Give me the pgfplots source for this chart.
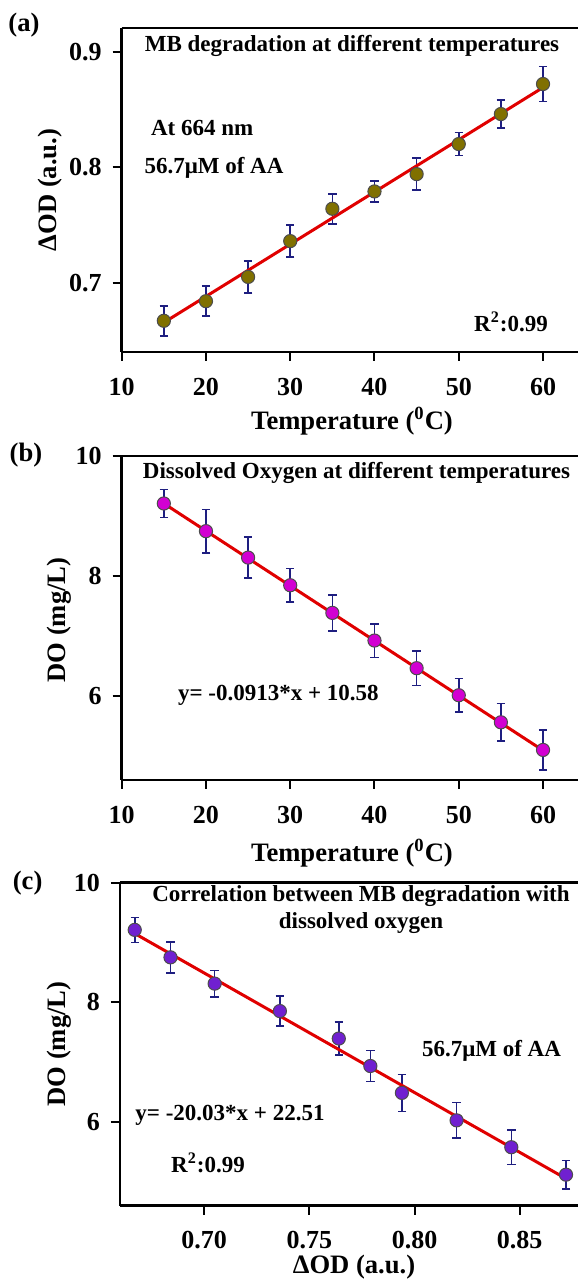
\documentclass[border=0pt]{standalone}
\usepackage{fontspec}
\setmainfont{Liberation Serif}
\usepackage{pgfplots}
\pgfplotsset{compat=1.18}

\definecolor{olivepts}{RGB}{128,112,0}
\definecolor{magpts}{RGB}{210,0,210}
\definecolor{purppts}{RGB}{112,32,208}
\definecolor{errnavy}{RGB}{30,30,128}
\definecolor{fitred}{RGB}{224,0,0}

\newcommand\annf{\fontsize{11.5}{13.5}\selectfont\bfseries}
\newcommand\labf{\fontsize{13.3}{15}\selectfont\bfseries}

\pgfplotsset{
  panel/.style={
    scale only axis,
    axis y line*=left,
    axis line style={line width=1.3pt},
    tick align=outside, tick pos=left,
    major tick length=4.5pt,
    tick style={line width=1pt, black},
    minor tick num=0,
    tick label style={font=\fontsize{13}{15}\selectfont\bfseries},
    /pgf/number format/assume math mode=true,
    xticklabel style={yshift=-5pt},
    yticklabel style={xshift=-2pt},
    clip=false,
    error bars/y dir=both,
    error bars/y explicit,
    error bars/error bar style={errnavy, line width=0.8pt},
    error bars/error mark options={errnavy, line width=0.8pt, mark size=2.1pt, rotate=90},
  },
  dots/.style={only marks, mark=*, mark size=3.3pt,
    mark options={fill=#1, draw=black!70, line width=0.5pt}},
  fit/.style={fitred, line width=1.5pt, no marks},
}

\begin{document}
\begin{tikzpicture}[x=1pt, y=1pt]
\useasboundingbox (0,0) rectangle (289,641);

% (a) MB degradation vs temperature
\begin{axis}[panel, at={(60.85pt,465pt)}, anchor=south west,
  width=228.15pt, height=162pt,
  xmin=10, xmax=64.15, ymin=0.640, ymax=0.9205,
  xtick={10,20,...,60}, ytick={0.7,0.8,0.9}]
\addplot[dots=olivepts] coordinates {
  (15,0.667) +- (0,0.013) (20,0.684) +- (0,0.013)
  (25,0.705) +- (0,0.014) (30,0.736) +- (0,0.014)
  (35,0.764) +- (0,0.013) (40,0.779) +- (0,0.009)
  (45,0.794) +- (0,0.014) (50,0.820) +- (0,0.010)
  (55,0.846) +- (0,0.012) (60,0.872) +- (0,0.015) };
\addplot[fit] coordinates {(15,0.6655) (60,0.8690)};
\end{axis}

% (b) dissolved oxygen vs temperature
\begin{axis}[panel, at={(60.85pt,251pt)}, anchor=south west,
  width=228.15pt, height=162pt,
  xmin=10, xmax=64.15, ymin=4.61, ymax=10,
  xtick={10,20,...,60}, ytick={6,8,10}]
\addplot[dots=magpts] coordinates {
  (15,9.21) +- (0,0.23) (20,8.75) +- (0,0.36)
  (25,8.31) +- (0,0.34) (30,7.85) +- (0,0.28)
  (35,7.39) +- (0,0.30) (40,6.93) +- (0,0.28)
  (45,6.47) +- (0,0.29) (50,6.02) +- (0,0.28)
  (55,5.57) +- (0,0.31) (60,5.11) +- (0,0.33) };
\addplot[fit] coordinates {(15,9.2105) (60,5.102)};
\end{axis}

% (c) DO vs Delta OD
\begin{axis}[panel, at={(60pt,38.25pt)}, anchor=south west,
  width=229pt, height=161.4pt,
  xmin=0.660, xmax=0.8777, ymin=4.594, ymax=10,
  xtick={0.70,0.75,0.80,0.85}, xticklabels={0.70,0.75,0.80,0.85},
  ytick={6,8,10}]
\addplot[dots=purppts] coordinates {
  (0.667,9.21) +- (0,0.21) (0.684,8.75) +- (0,0.26)
  (0.705,8.31) +- (0,0.22) (0.736,7.85) +- (0,0.25)
  (0.764,7.39) +- (0,0.28) (0.779,6.93) +- (0,0.26)
  (0.794,6.48) +- (0,0.31) (0.820,6.02) +- (0,0.30)
  (0.846,5.57) +- (0,0.29) (0.872,5.11) +- (0,0.24) };
\addplot[fit] coordinates {(0.667,9.149) (0.872,5.044)};
\end{axis}

% panel (a) texts
\node[font=\labf] at (12,628.5) {(a)};
\node[font=\annf] at (176,618.15) {MB degradation at different temperatures};
\node[font=\annf, anchor=west] at (72,576.85) {At 664 nm};
\node[font=\annf, anchor=west] at (68.75,556.85) {56.7μM of AA};
\node[font=\annf] at (255.5,480.15) {R\textsuperscript{2}:0.99};
\node[font=\labf, rotate=90] at (25,546) {ΔOD (a.u.)};
\node[font=\labf] at (176,430.5) {Temperature (\textsuperscript{0}C)};

% panel (b) texts
\node[font=\labf] at (13,413.5) {(b)};
\node[font=\annf] at (178.25,404.65) {Dissolved Oxygen at different temperatures};
\node[font=\annf, anchor=west] at (85.5,293.5) {y= -0.0913*x + 10.58};
\node[font=\labf, rotate=90] at (29.5,331) {DO (mg/L)};
\node[font=\labf] at (176,214.5) {Temperature (\textsuperscript{0}C)};

% panel (c) texts
\node[font=\labf] at (13.8,199.65) {(c)};
\node[font=\annf, align=center] at (180.5,186.4) {Correlation between MB degradation with\\dissolved oxygen};
\node[font=\annf] at (245.75,115.65) {56.7μM of AA};
\node[font=\annf] at (115,83.5) {y= -20.03*x + 22.51};
\node[font=\annf] at (104,59.5) {R\textsuperscript{2}:0.99};
\node[font=\labf, rotate=90] at (29.5,119) {DO (mg/L)};
\node[font=\labf, anchor=base, inner sep=0pt] at (177,4.2) {ΔOD (a.u.)};
\end{tikzpicture}
\end{document}
